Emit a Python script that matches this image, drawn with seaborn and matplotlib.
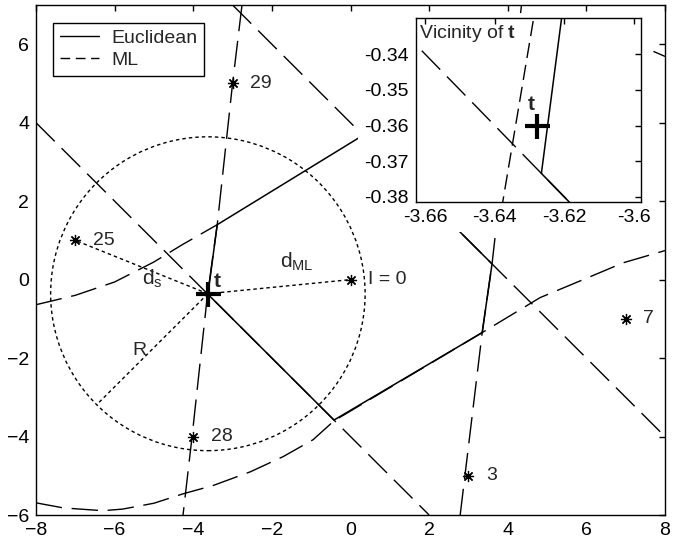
import matplotlib
matplotlib.use("Agg")
import matplotlib.pyplot as plt
import seaborn as sns
import numpy as np
from matplotlib.lines import Line2D
from matplotlib.patches import Circle, Rectangle

# ---------------- data ----------------
t_x, t_y = -3.628, -0.36          # test point t
R = 4.0                           # vicinity radius
r_angle_deg = 225                 # direction of the "R" radius line

proto_labels = ["25", "29", "28", "I = 0", "3", "7"]
proto_x = [-7, -3, -4, 0, 3, 7]
proto_y = [1, 5, -4, 0, -5, -1]

# Euclidean decision boundary (solid)
euc_x = [-3.6266, -3.39, 0.32, 3.6, 3.35, -0.42, -3.6266]
euc_y = [-0.3734, 1.4, 3.68, 0.4, -1.35, -3.58, -0.3734]

# ML decision boundaries (dashed)
ml1_x = [-8, 2]
ml1_y = [4, -6]
ml2_x = [-3, 8]
ml2_y = [7, -4]
ml3_x = [-2.76, -3.0, -3.39, -3.629, -3.6377, -4.03, -4.26]
ml3_y = [7.0, 5.0, 1.4, -0.331, -0.3814, -4.0, -6.0]
ml4_x = [-8, -7, -6, -5, -4.28, -3.39]
ml4_y = [-0.64, -0.4, -0.06, 0.45, 0.89, 1.4]
ml5_x = [-8, -7.3, -6.3, -5.8, -5.0, -4.26, -3.5, -2.55, -1.71, -0.95, -0.42,
         3.35, 4.82, 5.92, 6.94, 8]
ml5_y = [-5.69, -5.82, -5.89, -5.85, -5.7, -5.46, -5.25, -4.9, -4.51, -4.08, -3.6,
         -1.35, -0.46, 0.0, 0.43, 0.74]
ml6_x = [2.79, 3.35, 3.6, 4.35]
ml6_y = [-6, -1.35, 0.4, 7]
ml7_x = [6.0, 7.7, 8.0]
ml7_y = [6.5, 5.82, 5.69]

main_xticks = [-8, -6, -4, -2, 0, 2, 4, 6, 8]
main_yticks = [-6, -4, -2, 0, 2, 4, 6]
inset_xticks = [-3.66, -3.64, -3.62, -3.6]
inset_xticklabels = ["-3.66", "-3.64", "-3.62", "-3.6"]
inset_yticks = [-0.38, -0.37, -0.36, -0.35, -0.34]
inset_yticklabels = ["-0.38", "-0.37", "-0.36", "-0.35", "-0.34"]

# ---------------- style ----------------
sns.set_theme(style="white")
plt.rcParams["font.family"] = ["Liberation Sans", "DejaVu Sans"]
plt.rcParams["mathtext.fontset"] = "custom"
plt.rcParams["mathtext.rm"] = "Liberation Sans"
plt.rcParams["mathtext.it"] = "Liberation Sans:italic"
plt.rcParams["mathtext.bf"] = "Liberation Sans:bold"
FS = 14
DASH = (0, (19, 7))
DOT = (0, (2.5, 2.2))

fig = plt.figure(figsize=(6.79, 5.44), dpi=100)
ax = fig.add_axes([36 / 679, 29 / 544, 629 / 679, 510 / 544])


def sline(axis, xs, ys, ls="-", lw=1.0, z=2):
    sns.lineplot(x=xs, y=ys, sort=False, estimator=None, color="black",
                 linewidth=lw, linestyle=ls, ax=axis, legend=False, zorder=z)


def style_axes(axis, lw=1.0):
    for s in axis.spines.values():
        s.set_color("black")
        s.set_linewidth(lw)
        s.set_zorder(4)
    axis.tick_params(direction="in", length=4.5, width=1, colors="black",
                     top=True, right=True, labelsize=FS, pad=5)
    axis.set_xlabel("")
    axis.set_ylabel("")


# ML lines
for xs, ys in [(ml1_x, ml1_y), (ml2_x, ml2_y), (ml3_x, ml3_y), (ml4_x, ml4_y),
               (ml5_x, ml5_y), (ml6_x, ml6_y), (ml7_x, ml7_y)]:
    sline(ax, xs, ys, ls=DASH)
# Euclidean boundary
sline(ax, euc_x, euc_y, ls="-", lw=1.1)

# vicinity circle and distance lines
ax.add_patch(Circle((t_x, t_y), R, fill=False, edgecolor="black", lw=1.0,
                    linestyle=DOT, zorder=2))
ang = np.deg2rad(r_angle_deg)
sline(ax, [t_x, proto_x[0]], [t_y, proto_y[0]], ls=DOT)
sline(ax, [t_x, proto_x[3]], [t_y, proto_y[3]], ls=DOT)
sline(ax, [t_x, t_x + R * np.cos(ang)], [t_y, t_y + R * np.sin(ang)], ls=DOT)

# prototypes
ax.plot(proto_x, proto_y, ls="none", marker=(8, 2, 0), ms=8, mew=0.9,
        color="black", zorder=3)
for lab, px, py in zip(proto_labels, proto_x, proto_y):
    ax.text(px + 0.45, py, lab, fontsize=FS, ha="left", va="center")

# test point
ax.plot([t_x], [t_y], marker="+", ms=18, mew=3, color="black", zorder=3)
ax.text(-3.47, -0.2, "t", fontsize=FS + 1, fontweight="bold", ha="left",
        va="baseline")

ax.text(-5.3, -0.13, r"$\mathrm{d}_\mathrm{s}$", fontsize=FS + 1, ha="left",
        va="baseline")
ax.text(-1.8, 0.3, r"$\mathrm{d}_\mathrm{ML}$", fontsize=FS + 1, ha="left",
        va="baseline")
ax.text(-5.56, -1.91, "R", fontsize=FS, ha="left", va="baseline")

# white area behind inset (covers its tick labels)
ax.add_patch(Rectangle((0.19, 1.22), 7.67 - 0.19, 6.68 - 1.22,
                       facecolor="white", edgecolor="none", zorder=3))

ax.set_xlim(-8, 8)
ax.set_ylim(-6, 7)
ax.set_xticks(main_xticks)
ax.set_yticks(main_yticks)
style_axes(ax)

handles = [Line2D([], [], color="black", lw=1.0, ls="-"),
           Line2D([], [], color="black", lw=1.0, ls=(0, (7, 4)))]
leg = ax.legend(handles, ["Euclidean", "ML"], loc="upper left",
                bbox_to_anchor=(0.027, 0.965), borderaxespad=0, fontsize=FS,
                frameon=True, fancybox=False, framealpha=1, edgecolor="black",
                handlelength=2.0, handletextpad=0.65, labelspacing=0.2,
                borderpad=0.35)
leg.get_frame().set_linewidth(1.0)
leg.set_zorder(6)

# ---------------- inset ----------------
axi = fig.add_axes([416 / 679, (544 - 202) / 544, 225 / 679, 184 / 544])
axi.set_facecolor("white")
sline(axi, ml1_x, ml1_y, ls=DASH)
sline(axi, ml3_x, ml3_y, ls=(0, (11, 5)))
sline(axi, euc_x, euc_y, ls="-", lw=1.1)
axi.plot([t_x], [t_y], marker="+", ms=18, mew=3, color="black", zorder=3)
axi.text(-3.6306, -0.3557, "t", fontsize=FS + 1, fontweight="bold", ha="left",
         va="baseline")
axi.text(0.015, 0.975, r"Vicinity of $\mathbf{t}$", transform=axi.transAxes,
         fontsize=FS, ha="left", va="top")
axi.set_xlim(-3.6626, -3.598)
axi.set_ylim(-0.3814, -0.3299)
axi.set_xticks(inset_xticks)
axi.set_xticklabels(inset_xticklabels)
axi.set_yticks(inset_yticks)
axi.set_yticklabels(inset_yticklabels)
style_axes(axi)

fig.savefig("out.png", dpi=100)
